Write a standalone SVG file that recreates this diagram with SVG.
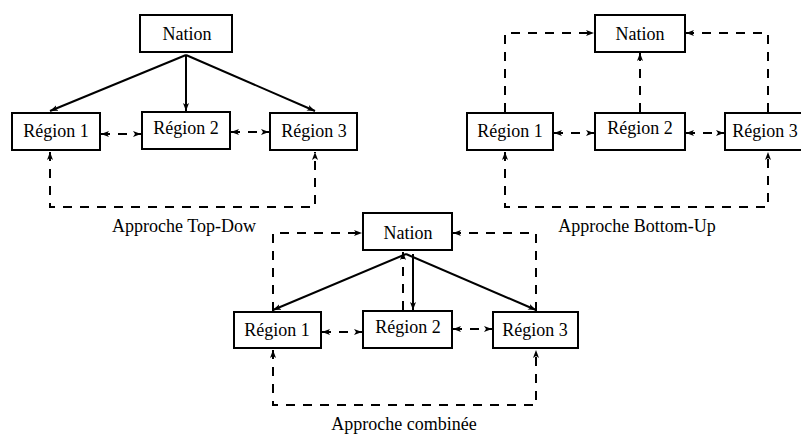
<svg xmlns="http://www.w3.org/2000/svg" width="801" height="435" viewBox="0 0 801 435">
<style>
.box{fill:#fff;stroke:#000;stroke-width:2}
.t{font-family:"Liberation Serif","Times New Roman",serif;font-size:18px;fill:#000;text-anchor:middle}
.s{fill:none;stroke:#000;stroke-width:2}
.d{fill:none;stroke:#000;stroke-width:2;stroke-dasharray:9 8}
</style>
<defs>
<marker id="ah" viewBox="0 0 8 6" refX="8" refY="3" markerWidth="8" markerHeight="6" markerUnits="userSpaceOnUse" orient="auto-start-reverse">
<path d="M0,0 L8,3 L0,6 L2,3 z" fill="#000"/>
</marker>
</defs>
<rect width="801" height="435" fill="#fff"/>
<g id="connectors">
<!-- Top-Down -->
<path class="s" d="M186,55 L50,111" marker-end="url(#ah)"/>
<path class="s" d="M186,55 L186,111" marker-end="url(#ah)"/>
<path class="s" d="M186,55 L315,111" marker-end="url(#ah)"/>
<path class="d" d="M101,134 L141,134" marker-start="url(#ah)" marker-end="url(#ah)"/>
<path class="d" d="M231,132 L269,132" marker-start="url(#ah)" marker-end="url(#ah)"/>
<path class="d" d="M50,152 L50,207 L315,207 L315,152" marker-start="url(#ah)" marker-end="url(#ah)"/>
<!-- Bottom-Up -->
<path class="d" d="M505,112 L505,33 L594,33" marker-end="url(#ah)"/>
<path class="d" d="M768,112 L768,33 L686,33" marker-end="url(#ah)"/>
<path class="d" d="M640,112 L640,53" marker-end="url(#ah)"/>
<path class="d" d="M554,133 L594,133" marker-start="url(#ah)" marker-end="url(#ah)"/>
<path class="d" d="M686,133 L724,133" marker-start="url(#ah)" marker-end="url(#ah)"/>
<path class="d" d="M505,152 L505,207 L768,207 L768,152" marker-start="url(#ah)" marker-end="url(#ah)"/>
<!-- Combined -->
<path class="d" d="M273,311 L273,233 L362,233" marker-end="url(#ah)"/>
<path class="d" d="M536,311 L536,233 L453,233" marker-end="url(#ah)"/>
<path class="d" d="M403,310 L403,252" marker-end="url(#ah)"/>
<path class="s" d="M406,254 L273,310" marker-end="url(#ah)"/>
<path class="s" d="M413,254 L413,310" marker-end="url(#ah)"/>
<path class="s" d="M406,254 L536,310" marker-end="url(#ah)"/>
<path class="d" d="M322,332 L362,332" marker-start="url(#ah)" marker-end="url(#ah)"/>
<path class="d" d="M453,329 L492,329" marker-start="url(#ah)" marker-end="url(#ah)"/>
<path class="d" d="M273,350 L273,405 L536,405 L536,350" marker-start="url(#ah)" marker-end="url(#ah)"/>
</g>
<g id="td-nation"><rect class="box" x="140" y="15" width="92" height="37"/><text class="t" x="187" y="40">Nation</text></g>
<g id="td-r1"><rect class="box" x="12" y="113" width="88" height="37"/><text class="t" x="56" y="137">Région 1</text></g>
<g id="td-r2"><rect class="box" x="142" y="112" width="88" height="37"/><text class="t" x="186" y="134">Région 2</text></g>
<g id="td-r3"><rect class="box" x="270" y="113" width="87" height="37"/><text class="t" x="314" y="137">Région 3</text></g>
<g id="td-label"><text class="t" x="184" y="232">Approche Top-Dow</text></g>

<g id="bu-nation"><rect class="box" x="595" y="15" width="90" height="37"/><text class="t" x="640" y="40">Nation</text></g>
<g id="bu-r1"><rect class="box" x="467" y="113" width="86" height="37"/><text class="t" x="510" y="137">Région 1</text></g>
<g id="bu-r2"><rect class="box" x="595" y="113" width="90" height="37"/><text class="t" x="640" y="134">Région 2</text></g>
<g id="bu-r3"><rect class="box" x="725" y="113" width="90" height="37"/><text class="t" x="765" y="137">Région 3</text></g>
<g id="bu-label"><text class="t" x="637" y="232">Approche Bottom-Up</text></g>

<g id="c-nation"><rect class="box" x="363" y="213" width="89" height="37"/><text class="t" x="408" y="239">Nation</text></g>
<g id="c-r1"><rect class="box" x="234" y="312" width="87" height="36"/><text class="t" x="277" y="336">Région 1</text></g>
<g id="c-r2"><rect class="box" x="363" y="311" width="89" height="37"/><text class="t" x="408" y="333">Région 2</text></g>
<g id="c-r3"><rect class="box" x="493" y="312" width="85" height="36"/><text class="t" x="535" y="336">Région 3</text></g>
<g id="c-label"><text class="t" x="404" y="430">Approche combinée</text></g>
</svg>
